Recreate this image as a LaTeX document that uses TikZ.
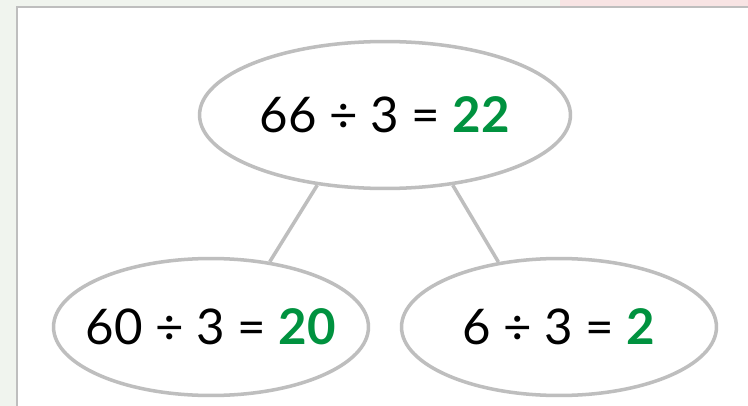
\documentclass[tikz,border=0pt]{standalone}
\usepackage{fontspec}
\setmainfont{Lato}
\usepackage{tikz}
\usetikzlibrary{positioning,shapes.geometric}

\definecolor{ringgray}{RGB}{190,190,190}
\definecolor{answergreen}{RGB}{0,146,63}
\definecolor{backwash}{RGB}{240,244,238}
\definecolor{backpink}{RGB}{248,228,228}

\begin{document}
\begin{tikzpicture}[
  x=0.02cm, y=-0.02cm,
  font=\fontsize{28}{34}\selectfont,
  bubble/.style={draw=ringgray, line width=2pt, ellipse, inner ysep=0pt,
                 inner xsep=-6mm, fill=white, align=center},
  topbubble/.style={bubble, minimum width=7.42cm, minimum height=2.94cm},
  subbubble/.style={bubble, minimum width=6.3cm, minimum height=2.74cm},
  link/.style={draw=ringgray, line width=2pt}
]
\useasboundingbox (0,0) rectangle (748,406);
\clip (0,0) rectangle (748,406);
% page behind the card
\fill[backwash] (0,0) rectangle (748,406);
\fill[backpink] (560,0) rectangle (748,7);
\draw[ringgray, line width=1.2pt, fill=white] (17,7) rectangle (780,440);

\node[topbubble] (whole) at (385,115) {66 ÷ 3 = \textcolor{answergreen}{\textbf{22}}};
\node[subbubble] (tens) at (211,327) {60 ÷ 3 = \textcolor{answergreen}{\textbf{20}}};
\node[subbubble] (ones) at (559,327) {6 ÷ 3 = \textcolor{answergreen}{\textbf{2}}};

\draw[link] (whole.226) -- (tens.48);
\draw[link] (whole.314) -- (ones.133);
\end{tikzpicture}
\end{document}
